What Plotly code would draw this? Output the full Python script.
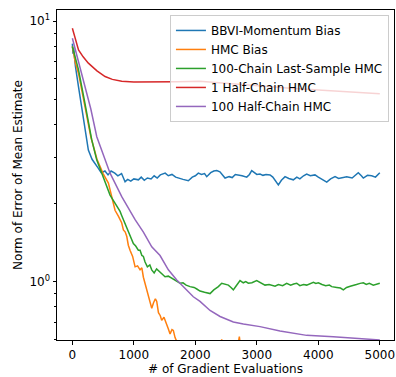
import plotly.graph_objects as go

# ---- data ----
blue_x = [0, 10, 20, 50, 100, 150, 200, 260, 320, 370, 420, 470, 530, 580, 630, 690, 740, 800, 857, 900, 950,
          1000, 1074, 1120, 1170, 1220, 1280, 1330, 1380, 1430, 1480, 1510, 1560, 1620, 1680, 1750, 1800, 1886,
          1950, 2000, 2049, 2100, 2150, 2185, 2250, 2300, 2348, 2400, 2440, 2483, 2550, 2600, 2650, 2699, 2760,
          2836, 2880, 2917, 2960, 3000, 3052, 3100, 3150, 3215, 3260, 3300, 3350, 3400, 3459, 3520, 3594, 3650,
          3700, 3760, 3811, 3870, 3946, 4000, 4070, 4137, 4200, 4272, 4330, 4400, 4462, 4550, 4600, 4650, 4700,
          4732, 4800, 4868, 4930, 5000]
blue_y = [8.2, 7.5, 7.9, 6.7, 5.6, 4.7, 4.0, 3.2, 2.95, 2.85, 2.73, 2.62, 2.66, 2.57, 2.66, 2.61, 2.55, 2.60, 2.42,
          2.47, 2.43, 2.48, 2.46, 2.52, 2.45, 2.50, 2.48, 2.55, 2.50, 2.57, 2.60, 2.61, 2.55, 2.58, 2.52, 2.50,
          2.47, 2.44, 2.52, 2.55, 2.61, 2.58, 2.60, 2.53, 2.62, 2.66, 2.67, 2.64, 2.58, 2.50, 2.53, 2.51, 2.58,
          2.57, 2.55, 2.52, 2.58, 2.67, 2.62, 2.58, 2.59, 2.56, 2.58, 2.57, 2.52, 2.45, 2.35, 2.45, 2.53, 2.49,
          2.46, 2.52, 2.48, 2.55, 2.59, 2.55, 2.57, 2.52, 2.47, 2.41, 2.48, 2.53, 2.49, 2.52, 2.53, 2.50, 2.55,
          2.62, 2.55, 2.50, 2.56, 2.55, 2.52, 2.62]

orange_x = [0, 50, 100, 200, 300, 400, 500, 586, 640, 694, 750, 803, 830, 860, 885, 910, 938, 980, 1020, 1060,
            1101, 1130, 1155, 1180, 1210, 1240, 1270, 1291, 1320, 1350, 1372, 1400, 1430, 1453, 1490, 1535, 1560,
            1589, 1620, 1642, 1670, 1698, 1750, 1850, 2000, 2200, 2400, 2429, 2460, 2600, 2680, 2716, 2740, 2800,
            3000, 3500, 4000, 4500, 5000]
orange_y = [8.0, 6.9, 6.3, 4.8, 3.6, 2.95, 2.6, 2.39, 2.1, 1.88, 1.78, 1.68, 1.58, 1.55, 1.49, 1.38, 1.32, 1.25,
            1.14, 1.15, 1.11, 1.13, 1.04, 0.99, 0.93, 0.86, 0.82, 0.79, 0.83, 0.86, 0.84, 0.76, 0.74, 0.71, 0.73,
            0.69, 0.66, 0.63, 0.655, 0.65, 0.61, 0.59, 0.57, 0.54, 0.52, 0.50, 0.53, 0.60, 0.52, 0.50, 0.55, 0.615,
            0.55, 0.50, 0.48, 0.47, 0.46, 0.46, 0.45]

green_x = [0, 50, 100, 200, 315, 397, 478, 532, 570, 613, 650, 694, 740, 776, 800, 829, 870, 911, 950, 992, 1030,
           1073, 1101, 1130, 1155, 1182, 1220, 1260, 1291, 1330, 1370, 1426, 1470, 1507, 1560, 1616, 1680, 1751,
           1800, 1850, 1914, 1980, 2030, 2076, 2150, 2239, 2300, 2374, 2429, 2480, 2537, 2580, 2618, 2660, 2727,
           2780, 2820, 2862, 2920, 2998, 3060, 3133, 3200, 3250, 3296, 3350, 3420, 3486, 3550, 3600, 3649, 3700,
           3760, 3811, 3870, 3920, 3960, 4000, 4060, 4120, 4180, 4218, 4300, 4360, 4407, 4460, 4520, 4569, 4620,
           4680, 4732, 4780, 4830, 4894, 4950, 5000]
green_y = [8.0, 7.2, 6.5, 4.9, 3.5, 2.93, 2.6, 2.39, 2.3, 2.15, 2.08, 2.0, 1.93, 1.86, 1.80, 1.73, 1.63, 1.56,
           1.46, 1.40, 1.37, 1.32, 1.32, 1.26, 1.25, 1.19, 1.14, 1.16, 1.11, 1.08, 1.12, 1.09, 1.06, 1.045, 1.05,
           1.03, 1.01, 0.986, 0.99, 0.97, 0.957, 0.95, 0.935, 0.92, 0.91, 0.90, 0.93, 0.957, 0.986, 0.98, 0.97,
           0.95, 0.93, 0.96, 1.01, 0.99, 1.0, 0.986, 0.99, 1.01, 0.99, 0.97, 0.975, 0.965, 0.96, 0.975, 0.965,
           0.986, 0.97, 0.98, 0.986, 0.965, 0.975, 0.97, 0.98, 0.995, 0.985, 0.99, 0.975, 0.965, 0.97, 0.957,
           0.95, 0.945, 0.93, 0.95, 0.96, 0.97, 0.975, 0.985, 0.99, 0.975, 0.985, 0.97, 0.98, 0.986]

red_x = [0, 50, 100, 175, 260, 400, 532, 650, 803, 1000, 1300, 1700, 2070, 2500, 3000, 3500, 4000, 4500, 5000]
red_y = [9.4, 8.5, 7.75, 7.3, 6.9, 6.45, 6.13, 5.98, 5.88, 5.84, 5.83, 5.85, 5.88, 5.77, 5.65, 5.54, 5.44, 5.35, 5.26]

purple_x = [0, 100, 200, 300, 397, 478, 613, 803, 1020, 1155, 1291, 1426, 1561, 1698, 1830, 1967, 2076, 2239,
            2402, 2618, 2781, 3052, 3377, 3811, 4244, 4569, 5000]
purple_y = [8.6, 7.0, 5.7, 4.6, 3.6, 3.2, 2.61, 2.12, 1.73, 1.55, 1.36, 1.26, 1.11, 1.015, 0.94, 0.875, 0.84,
            0.775, 0.735, 0.70, 0.688, 0.672, 0.647, 0.622, 0.615, 0.606, 0.597]

series = [
    ("BBVI-Momentum Bias", blue_x, blue_y, "#1f77b4"),
    ("HMC Bias", orange_x, orange_y, "#ff7f0e"),
    ("100-Chain Last-Sample HMC", green_x, green_y, "#2ca02c"),
    ("1 Half-Chain HMC", red_x, red_y, "#d62728"),
    ("100 Half-Chain HMC", purple_x, purple_y, "#9467bd"),
]

x_ticks = [0, 1000, 2000, 3000, 4000, 5000]
y_ticks = [1, 10]
y_ticktext = ["10<sup>0</sup>", "10<sup>1</sup>"]
y_minor = [0.6, 0.7, 0.8, 0.9, 2, 3, 4, 5, 6, 7, 8, 9]

fig = go.Figure()
for name, xs, ys, col in series:
    fig.add_trace(go.Scatter(x=xs, y=ys, mode="lines", name=name,
                             line=dict(color=col, width=1.5)))

FS = 12
font = dict(family="DejaVu Sans", size=FS, color="black")
fig.update_layout(
    width=396, height=377,
    margin=dict(l=57, r=2, t=10, b=37),
    paper_bgcolor="white", plot_bgcolor="white",
    font=font,
    showlegend=True,
    legend=dict(x=0.985, y=0.985, xanchor="right", yanchor="top",
                bgcolor="rgba(255,255,255,0.8)", bordercolor="#cccccc", borderwidth=1,
                font=dict(family="DejaVu Sans", size=FS, color="black"), tracegroupgap=0,
                itemwidth=30),
)
fig.update_xaxes(range=[-250, 5231], tickvals=x_ticks, ticks="outside", ticklen=3.5,
                 tickcolor="black", tickfont=font, showgrid=False, zeroline=False, showline=True,
                 linecolor="black", linewidth=1, mirror=True,
                 title=dict(text="# of Gradient Evaluations", font=font, standoff=3))
fig.update_yaxes(type="log", range=[-0.224, 1.043], tickvals=y_ticks, ticktext=y_ticktext,
                 ticks="outside", ticklen=3.5, tickcolor="black", tickfont=font,
                 showgrid=False, zeroline=False,
                 showline=True, linecolor="black", linewidth=1, mirror=True,
                 minor=dict(tickmode="array", tickvals=y_minor, ticks="outside", ticklen=2,
                            tickcolor="black", showgrid=False),
                 title=dict(text="Norm of Error of Mean Estimate", font=font, standoff=4))
fig.write_html("out.html", config={"displayModeBar": False},
               post_script="document.body.style.margin='0';document.body.style.overflow='hidden';")
